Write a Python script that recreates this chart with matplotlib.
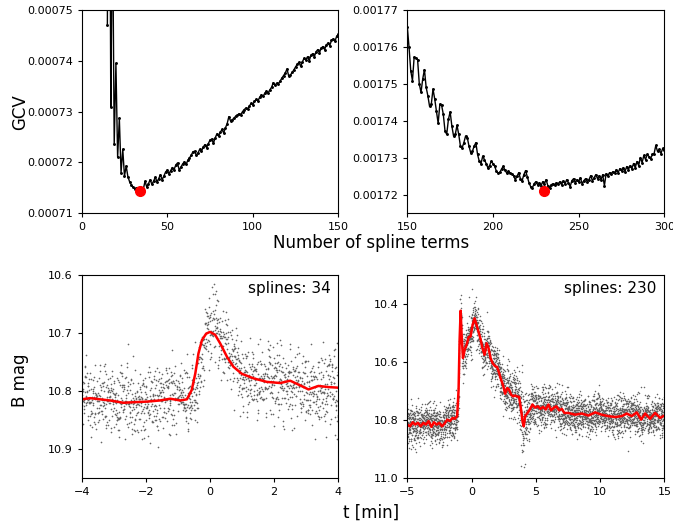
import numpy as np
import matplotlib.pyplot as plt
from matplotlib.ticker import FormatStrFormatter

# --- GCV against number of spline terms ---
terms_a = np.arange(15, 151)
gcv_a = np.array([
    7.47, 8.20, 7.31, 7.70, 7.236, 7.395, 7.210, 7.287, 7.180, 7.226,
    7.173, 7.193, 7.172, 7.162, 7.156, 7.151, 7.148, 7.150, 7.146, 7.144,
    7.150, 7.147, 7.163, 7.152, 7.158, 7.166, 7.157, 7.163, 7.171, 7.162,
    7.168, 7.176, 7.166, 7.173, 7.181, 7.185, 7.178, 7.184, 7.190, 7.186,
    7.195, 7.199, 7.185, 7.191, 7.197, 7.201, 7.196, 7.204, 7.209, 7.214,
    7.221, 7.222, 7.214, 7.219, 7.226, 7.222, 7.230, 7.235, 7.229, 7.237,
    7.244, 7.246, 7.238, 7.248, 7.256, 7.252, 7.259, 7.265, 7.258, 7.268,
    7.276, 7.290, 7.282, 7.284, 7.287, 7.291, 7.293, 7.296, 7.294, 7.300,
    7.304, 7.307, 7.305, 7.311, 7.316, 7.314, 7.320, 7.324, 7.321, 7.328,
    7.333, 7.330, 7.336, 7.340, 7.337, 7.343, 7.348, 7.357, 7.352, 7.356,
    7.355, 7.360, 7.366, 7.371, 7.376, 7.384, 7.370, 7.372, 7.377, 7.382,
    7.388, 7.393, 7.397, 7.389, 7.398, 7.405, 7.402, 7.408, 7.400, 7.411,
    7.414, 7.408, 7.418, 7.422, 7.416, 7.425, 7.428, 7.422, 7.431, 7.435,
    7.430, 7.440, 7.443, 7.438, 7.448, 7.452,
]) * 1e-4

terms_b = np.arange(150, 301)
gcv_b = np.array([
    1.76542, 1.75997, 1.75360, 1.75087, 1.75725, 1.75698, 1.75659, 1.74997, 1.74771, 1.75134,
    1.75387, 1.74907, 1.74678, 1.74390, 1.74452, 1.74861, 1.74589, 1.74270, 1.73935, 1.74452,
    1.74425, 1.74180, 1.73725, 1.73635, 1.74044, 1.74243, 1.73861, 1.73589, 1.73635, 1.73880,
    1.73635, 1.73316, 1.73272, 1.73409, 1.73589, 1.73545, 1.73316, 1.73136, 1.73180, 1.73316,
    1.73409, 1.73090, 1.72907, 1.72845, 1.73044, 1.72954, 1.72845, 1.72728, 1.72790, 1.72907,
    1.72845, 1.72771, 1.72635, 1.72591, 1.72608, 1.72700, 1.72771, 1.72662, 1.72591, 1.72635,
    1.72591, 1.72572, 1.72518, 1.72409, 1.72499, 1.72600, 1.72436, 1.72381, 1.72545, 1.72654,
    1.72490, 1.72327, 1.72218, 1.72191, 1.72300, 1.72354, 1.72272, 1.72327, 1.72245, 1.72354,
    1.72300, 1.72409, 1.72245, 1.72191, 1.72272, 1.72300, 1.72272, 1.72327, 1.72300, 1.72354,
    1.72272, 1.72381, 1.72300, 1.72409, 1.72327, 1.72218, 1.72381, 1.72436, 1.72327, 1.72409,
    1.72354, 1.72463, 1.72300, 1.72381, 1.72436, 1.72354, 1.72409, 1.72518, 1.72381, 1.72463,
    1.72545, 1.72436, 1.72518, 1.72409, 1.72545, 1.72245, 1.72572, 1.72518, 1.72600, 1.72572,
    1.72627, 1.72600, 1.72681, 1.72600, 1.72708, 1.72654, 1.72736, 1.72627, 1.72763, 1.72681,
    1.72790, 1.72708, 1.72845, 1.72736, 1.72899, 1.72790, 1.73008, 1.72872, 1.73063, 1.72954,
    1.73090, 1.73035, 1.72981, 1.73090, 1.73117, 1.73335, 1.73172, 1.73226, 1.73117, 1.73253,
    1.73199,
]) * 1e-3

best_terms = [34, 230]
best_gcv = [7.144e-4, 1.7209e-3]

# --- spline fits of the light curves ---
fit_a_t = [-4.0, -3.74, -3.43, -3.12, -2.70, -2.39, -1.97, -1.56, -1.24, -0.93,
           -0.72, -0.57, -0.46, -0.36, -0.25, -0.12, 0.0, 0.16, 0.32, 0.53,
           0.73, 0.99, 1.36, 1.77, 2.19, 2.50, 2.81, 3.07, 3.38, 3.70, 4.0]
fit_a_mag = [10.814, 10.812, 10.814, 10.816, 10.820, 10.819, 10.818, 10.816, 10.813, 10.816,
             10.814, 10.798, 10.770, 10.735, 10.712, 10.701, 10.698, 10.703, 10.718, 10.741,
             10.758, 10.770, 10.778, 10.784, 10.786, 10.782, 10.790, 10.797, 10.791, 10.793, 10.794]

fit_b_t = [-5.0, -4.79, -4.58, -4.38, -4.17, -3.96, -3.75, -3.55, -3.34, -3.13,
           -2.93, -2.72, -2.51, -2.30, -2.10, -1.89, -1.68, -1.48, -1.30, -1.12,
           -1.01, -0.93, -0.85, -0.78, -0.67, -0.54, -0.39, -0.23, -0.08, 0.08,
           0.23, 0.39, 0.54, 0.70, 0.85, 1.01, 1.17, 1.32, 1.48, 1.63,
           1.81, 1.99, 2.15, 2.30, 2.46, 2.61, 2.77, 2.92, 3.08, 3.23,
           3.39, 3.54, 3.70, 3.85, 3.96, 4.06, 4.17, 4.32, 4.53, 4.74,
           4.94, 5.15, 5.36, 5.56, 5.77, 5.98, 6.19, 6.40, 6.60, 6.81,
           7.02, 7.22, 7.53, 8.05, 8.57, 9.09, 9.61, 10.13, 10.65, 11.16,
           11.68, 12.07, 12.46, 12.85, 13.19, 13.50, 13.89, 14.28, 14.67, 15.0]
fit_b_mag = [10.815, 10.821, 10.807, 10.815, 10.809, 10.821, 10.809, 10.815, 10.803, 10.823,
             10.807, 10.815, 10.809, 10.821, 10.811, 10.798, 10.803, 10.792, 10.795, 10.786,
             10.695, 10.523, 10.423, 10.501, 10.586, 10.558, 10.541, 10.514, 10.512, 10.472,
             10.449, 10.472, 10.495, 10.521, 10.552, 10.575, 10.535, 10.552, 10.586, 10.603,
             10.613, 10.617, 10.638, 10.661, 10.681, 10.709, 10.689, 10.695, 10.712, 10.718,
             10.715, 10.718, 10.720, 10.763, 10.803, 10.821, 10.786, 10.777, 10.763, 10.746,
             10.757, 10.752, 10.761, 10.754, 10.763, 10.746, 10.766, 10.757, 10.752, 10.766,
             10.761, 10.775, 10.775, 10.781, 10.777, 10.784, 10.773, 10.781, 10.786, 10.789,
             10.786, 10.777, 10.786, 10.773, 10.798, 10.777, 10.795, 10.775, 10.792, 10.784]

# --- observed points: cannot be read one by one, so the cloud is rebuilt
# from its centre line and spread as read from the figure (seeded noise) ---
cloud_a_t = [-4, -3, -2, -1, -0.6, -0.4, -0.2, 0, 0.2, 0.4, 0.7, 1, 1.5, 2, 3, 4]
cloud_a_mid = [10.815, 10.82, 10.82, 10.815, 10.815, 10.79, 10.72, 10.68,
               10.69, 10.72, 10.75, 10.77, 10.78, 10.785, 10.795, 10.795]
cloud_a_sd = 0.031
cloud_b_t = [-5, -1.2, -0.9, 2, 3.7, 4.0, 4.4, 6, 15]
cloud_b_sd = [0.032, 0.032, 0.038, 0.036, 0.04, 0.07, 0.04, 0.033, 0.031]

rng = np.random.default_rng(7)
obs_a_t = np.linspace(-4, 4, 1400)
obs_a_mag = np.interp(obs_a_t, cloud_a_t, cloud_a_mid) + rng.normal(0, cloud_a_sd, obs_a_t.size)
obs_b_t = np.linspace(-5, 15, 3800)
obs_b_mag = (np.interp(obs_b_t, fit_b_t, fit_b_mag)
             + rng.normal(0, 1, obs_b_t.size) * np.interp(obs_b_t, cloud_b_t, cloud_b_sd))

fig = plt.figure(figsize=(6.73, 5.27), dpi=100)
ax1 = fig.add_axes([0.1214, 0.5953, 0.3813, 0.3858])
ax2 = fig.add_axes([0.6052, 0.5953, 0.3820, 0.3858])
ax3 = fig.add_axes([0.1214, 0.0924, 0.3813, 0.3858])
ax4 = fig.add_axes([0.6052, 0.0924, 0.3820, 0.3858])

for ax, n, g, bn, bg in [(ax1, terms_a, gcv_a, best_terms[0], best_gcv[0]),
                         (ax2, terms_b, gcv_b, best_terms[1], best_gcv[1])]:
    ax.plot(n, g, color="black", lw=1.0, marker=".", ms=2.2)
    ax.plot(bn, bg, "o", color="red", ms=7, zorder=3)
    ax.yaxis.set_major_formatter(FormatStrFormatter("%.5f"))

ax1.set_xlim(0, 150)
ax1.set_ylim(0.00071, 0.00075)
ax1.set_xticks([0, 50, 100, 150])
ax1.set_yticks([0.00071, 0.00072, 0.00073, 0.00074, 0.00075])
ax2.set_xlim(150, 300)
ax2.set_ylim(0.001715, 0.00177)
ax2.set_xticks([150, 200, 250, 300])
ax2.set_yticks([0.00172, 0.00173, 0.00174, 0.00175, 0.00176, 0.00177])

ax3.plot(obs_a_t, obs_a_mag, ".", color="#666666", ms=2.4, mew=0)
ax3.plot(fit_a_t, fit_a_mag, color="red", lw=1.8)
ax3.set_xlim(-4, 4)
ax3.set_ylim(10.95, 10.6)
ax3.set_xticks([-4, -2, 0, 2, 4])
ax3.set_yticks([10.6, 10.7, 10.8, 10.9])
ax3.yaxis.set_major_formatter(FormatStrFormatter("%.1f"))
ax3.text(0.97, 0.97, "splines: 34", transform=ax3.transAxes, ha="right", va="top", fontsize=11)

ax4.plot(obs_b_t, obs_b_mag, ".", color="#666666", ms=2.2, mew=0)
ax4.plot(fit_b_t, fit_b_mag, color="red", lw=1.8)
ax4.set_xlim(-5, 15)
ax4.set_ylim(11.0, 10.3)
ax4.set_xticks([-5, 0, 5, 10, 15])
ax4.set_yticks([10.4, 10.6, 10.8, 11.0])
ax4.yaxis.set_major_formatter(FormatStrFormatter("%.1f"))
ax4.text(0.97, 0.97, "splines: 230", transform=ax4.transAxes, ha="right", va="top", fontsize=11)

for ax in (ax1, ax2, ax3, ax4):
    ax.tick_params(labelsize=8, length=3)

fig.text(0.03, 0.787, "GCV", rotation=90, ha="center", va="center", fontsize=12)
fig.text(0.551, 0.539, "Number of spline terms", ha="center", va="center", fontsize=12)
fig.text(0.03, 0.279, "B mag", rotation=90, ha="center", va="center", fontsize=12)
fig.text(0.551, 0.028, "t [min]", ha="center", va="center", fontsize=12)

fig.savefig("out.png", dpi=100)
plt.close(fig)
